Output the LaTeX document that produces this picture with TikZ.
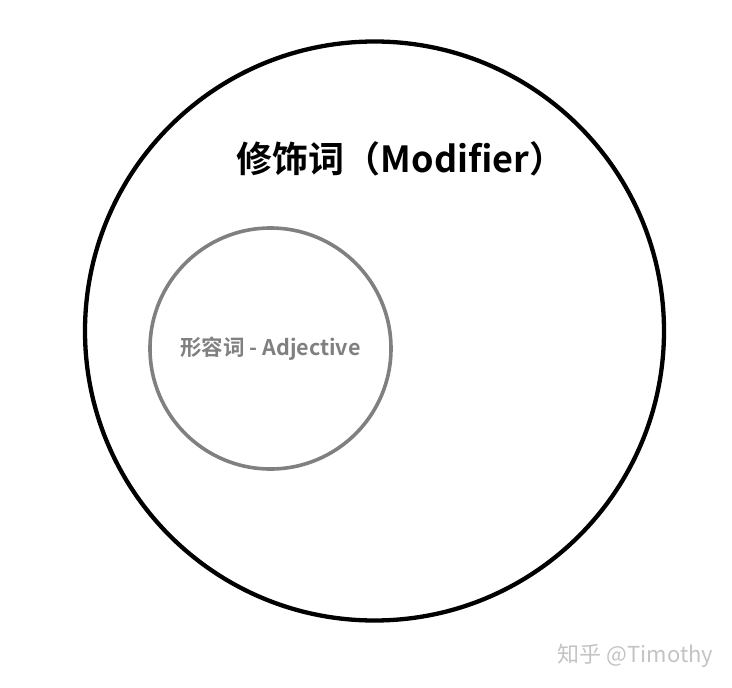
\documentclass[tikz,border=0pt]{standalone}
\usepackage{fontspec}
\newfontfamily\cjk{Noto Sans CJK SC}
\newfontfamily\cjkb{Noto Sans CJK SC Bold}
\definecolor{midgray}{HTML}{808080}
\definecolor{markgray}{HTML}{C4C4C4}
\begin{document}
\begin{tikzpicture}[x=1pt,y=-1pt,
  outer/.style={draw=black,line width=4.3pt},
  inner/.style={draw=midgray,line width=3.6pt},
  title/.style={font=\cjkb\fontsize{36}{42}\selectfont,text=black,inner sep=0pt},
  sub/.style={font=\cjkb\fontsize{21.5}{25}\selectfont,text=midgray,inner sep=0pt},
  wmark/.style={font=\cjk\fontsize{22}{26}\selectfont,text=markgray,inner sep=0pt}]
\useasboundingbox (0,0) rectangle (732,688);
\fill[white] (0,0) rectangle (732,688);
\node[outer,circle,minimum size=579pt,inner sep=0pt] (big) at (374.5,331) {};
\node[inner,circle,minimum size=241pt,inner sep=0pt] (small) at (270.5,348.5) {};
\node[title] (t1) at (401,159) {修饰词（Modifier）};
\node[sub] (t2) at (270.5,349) {形容词 - Adjective};
\node[wmark] (wm) at (635.5,656) {知乎 @Timothy};
\end{tikzpicture}
\end{document}
